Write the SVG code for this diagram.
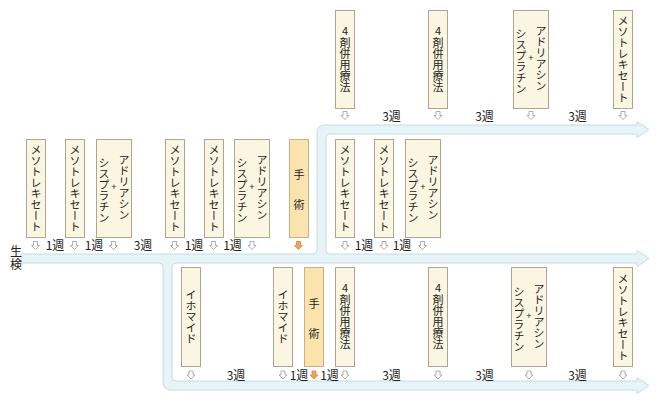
<svg xmlns="http://www.w3.org/2000/svg" xmlns:xlink="http://www.w3.org/1999/xlink" width="658" height="404" viewBox="0 0 658 404">
<style>
.box{fill:#faf6e1;stroke:#aba690;stroke-width:1}
.op{fill:#fbe3ae;stroke:#c8b081;stroke-width:1}
.v{font-family:"Noto Sans CJK JP","Noto Sans",sans-serif;font-size:11px;writing-mode:vertical-rl;text-anchor:middle;fill:#222}
.h{font-family:"Noto Sans CJK JP","Noto Sans",sans-serif;font-size:11px;text-anchor:middle;fill:#222}
.plus{font-family:"Liberation Sans",sans-serif;font-size:9px;text-anchor:middle;fill:#222}
.lbl{font-family:"Noto Sans CJK JP","Noto Sans",sans-serif;font-size:12px;text-anchor:middle;fill:#222}
.vl{font-family:"Noto Sans CJK JP","Noto Sans",sans-serif;font-size:12px;writing-mode:vertical-rl;text-anchor:middle;letter-spacing:1px;fill:#222}
.band{fill:#e6f4f7;stroke:#c4dce4;stroke-width:1}
.ar{fill:#fff;stroke:#9a9a9a;stroke-width:0.8}
.aro{fill:#f4a25a;stroke:#e08838;stroke-width:0.8}
</style>
<defs>
<path id="da" d="M-2,-4H2V0H4L0,4L-4,0H-2Z"/>
</defs>
<g id="connectors">
<path class="band" d="M21,254H313Q317,254 317,250V133Q317,125 325,125H637V121.5L649,129.5L637,137.5V134H330Q326,134 326,138V250Q326,254 330,254H637V250.5L649,258.5L637,266.5V263H176Q172,263 172,267V377Q172,381 176,381H637V377.5L649,385.5L637,393.5V390H171Q163,390 163,382V267Q163,263 159,263H21Z"/>
<g id="small-arrows">
<use href="#da" class="ar" x="35.5" y="245.5"/>
<use href="#da" class="ar" x="74.5" y="245.5"/>
<use href="#da" class="ar" x="113.5" y="245.5"/>
<use href="#da" class="ar" x="174.5" y="245.5"/>
<use href="#da" class="ar" x="213.5" y="245.5"/>
<use href="#da" class="ar" x="252" y="245.5"/>
<use href="#da" class="aro" x="298.5" y="245.5"/>
<use href="#da" class="ar" x="345" y="245.5"/>
<use href="#da" class="ar" x="384" y="245.5"/>
<use href="#da" class="ar" x="422.5" y="245.5"/>
<use href="#da" class="ar" x="345" y="115.5"/>
<use href="#da" class="ar" x="438" y="115.5"/>
<use href="#da" class="ar" x="531" y="115.5"/>
<use href="#da" class="ar" x="623" y="115.5"/>
<use href="#da" class="ar" x="191" y="375"/>
<use href="#da" class="ar" x="283" y="375"/>
<use href="#da" class="aro" x="314" y="375"/>
<use href="#da" class="ar" x="345" y="375"/>
<use href="#da" class="ar" x="438" y="375"/>
<use href="#da" class="ar" x="529" y="375"/>
<use href="#da" class="ar" x="623" y="375"/>
</g>
<g id="interval-labels">
<text class="lbl" x="55" y="250">1週</text>
<text class="lbl" x="94" y="250">1週</text>
<text class="lbl" x="143" y="250">3週</text>
<text class="lbl" x="194" y="250">1週</text>
<text class="lbl" x="232.5" y="250">1週</text>
<text class="lbl" x="364" y="250">1週</text>
<text class="lbl" x="402" y="250">1週</text>
<text class="lbl" x="391.5" y="121">3週</text>
<text class="lbl" x="484.5" y="121">3週</text>
<text class="lbl" x="577.5" y="121">3週</text>
<text class="lbl" x="236" y="379.5">3週</text>
<text class="lbl" x="299" y="379.5">1週</text>
<text class="lbl" x="329.5" y="379.5">1週</text>
<text class="lbl" x="391.5" y="379.5">3週</text>
<text class="lbl" x="484.5" y="379.5">3週</text>
<text class="lbl" x="577.5" y="379.5">3週</text>
</g>
</g>
<g id="biopsy">
<text class="vl" x="16" y="258">生検</text>
</g>
<!-- middle row -->
<g id="m1"><rect class="box" x="26.5" y="139.5" width="19" height="98"/><text class="v" x="36" y="188.5">メソトレキセート</text></g>
<g id="m2"><rect class="box" x="65.5" y="139.5" width="19" height="98"/><text class="v" x="75" y="188.5">メソトレキセート</text></g>
<g id="ac1"><rect class="box" x="96.5" y="139.5" width="35" height="98"/><text class="v" x="124" y="187.5">アドリアシン</text><text class="plus" x="114" y="190">+</text><text class="v" x="104" y="190">シスプラチン</text></g>
<g id="m3"><rect class="box" x="165.5" y="139.5" width="19" height="98"/><text class="v" x="175" y="188.5">メソトレキセート</text></g>
<g id="m4"><rect class="box" x="204.5" y="139.5" width="19" height="98"/><text class="v" x="214" y="188.5">メソトレキセート</text></g>
<g id="ac2"><rect class="box" x="234.5" y="139.5" width="35" height="98"/><text class="v" x="262" y="187.5">アドリアシン</text><text class="plus" x="252" y="190">+</text><text class="v" x="242" y="190">シスプラチン</text></g>
<g id="surgery1"><rect class="op" x="289.5" y="139.5" width="19" height="98"/><text class="h" x="299" y="179">手</text><text class="h" x="299" y="209">術</text></g>
<g id="m5"><rect class="box" x="335.5" y="139.5" width="19" height="98"/><text class="v" x="345" y="188.5">メソトレキセート</text></g>
<g id="m6"><rect class="box" x="374.5" y="139.5" width="19" height="98"/><text class="v" x="384" y="188.5">メソトレキセート</text></g>
<g id="ac3"><rect class="box" x="405.5" y="139.5" width="35" height="98"/><text class="v" x="433" y="187.5">アドリアシン</text><text class="plus" x="423" y="190">+</text><text class="v" x="413" y="190">シスプラチン</text></g>
<!-- top row -->
<g id="t1"><rect class="box" x="335.5" y="10.5" width="19" height="98"/><text class="h" x="345" y="35">4</text><text class="v" x="345" y="64.5">剤併用療法</text></g>
<g id="t2"><rect class="box" x="428.5" y="10.5" width="19" height="98"/><text class="h" x="438" y="35">4</text><text class="v" x="438" y="64.5">剤併用療法</text></g>
<g id="t3"><rect class="box" x="513.5" y="10.5" width="35" height="98"/><text class="v" x="541" y="58.5">アドリアシン</text><text class="plus" x="531" y="61">+</text><text class="v" x="521" y="61">シスプラチン</text></g>
<g id="t4"><rect class="box" x="613.5" y="10.5" width="19" height="98"/><text class="v" x="623" y="59.5">メソトレキセート</text></g>
<!-- bottom row -->
<g id="b1"><rect class="box" x="181.5" y="267.5" width="19" height="99"/><text class="v" x="191" y="317">イホマイド</text></g>
<g id="b2"><rect class="box" x="273.5" y="267.5" width="19" height="99"/><text class="v" x="283" y="317">イホマイド</text></g>
<g id="surgery2"><rect class="op" x="304.5" y="267.5" width="19" height="99"/><text class="h" x="314" y="308">手</text><text class="h" x="314" y="338">術</text></g>
<g id="b3"><rect class="box" x="335.5" y="267.5" width="19" height="99"/><text class="h" x="345" y="292">4</text><text class="v" x="345" y="321.5">剤併用療法</text></g>
<g id="b4"><rect class="box" x="428.5" y="267.5" width="19" height="99"/><text class="h" x="438" y="292">4</text><text class="v" x="438" y="321.5">剤併用療法</text></g>
<g id="b5"><rect class="box" x="511.5" y="267.5" width="35" height="99"/><text class="v" x="539" y="316">アドリアシン</text><text class="plus" x="529" y="319">+</text><text class="v" x="519" y="319">シスプラチン</text></g>
<g id="b6"><rect class="box" x="613.5" y="267.5" width="19" height="99"/><text class="v" x="623" y="317">メソトレキセート</text></g>
</svg>
